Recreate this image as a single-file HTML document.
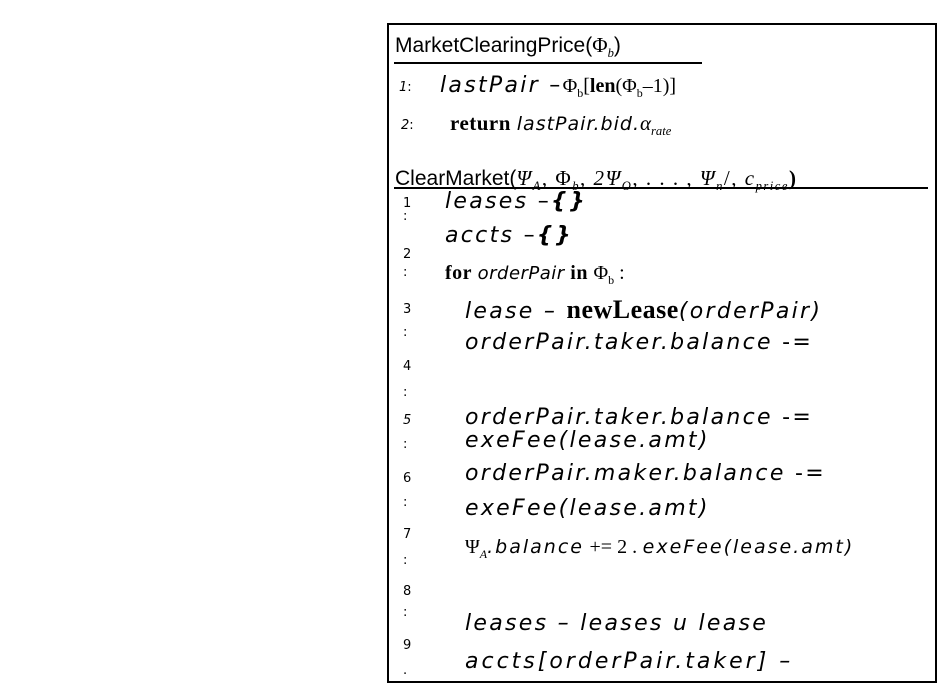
<!DOCTYPE html>
<html><head><meta charset="utf-8"><style>
body{margin:0;width:944px;height:690px;background:#fff;position:relative;overflow:hidden;font-family:"Liberation Sans",sans-serif;color:#000}
#box{position:absolute;left:387px;top:23px;width:546px;height:656px;border:2.5px solid #000}
.t{position:absolute;white-space:nowrap;line-height:1}
.h{font-size:21px}
.c{font-family:"DejaVu Sans",sans-serif;font-style:italic;font-size:22px;letter-spacing:2.3px}
.n{font-family:"DejaVu Sans",sans-serif;font-size:13px}
.s{font-family:"Liberation Serif",serif;letter-spacing:0}
.b{font-family:"Liberation Serif",serif;font-weight:bold;letter-spacing:0.5px}
.hl{position:absolute;height:2px;background:#000}
sub{font-size:0.6em}
</style></head><body>
<div id="box"></div>
<div class="t h" style="left:395px;top:35px">MarketClearingPrice(<span class="s">Φ<sub><i>b</i></sub></span>)</div>
<div class="hl" style="left:394px;top:62px;width:308px"></div>
<div class="t n" style="left:399px;top:81px"><i>1</i>:</div>
<div class="t c" style="left:440px;top:75px">lastPair <span style="font-style:normal">–</span><span class="s" style="font-style:normal;font-size:20px">Φ<sub>b</sub>[<b>len</b>(Φ<sub>b</sub>–1)]</span></div>
<div class="t n" style="left:401px;top:119px"><i>2</i>:</div>
<div class="t" style="left:450px;top:113px;font-size:21px"><span class="b">return</span> <i style="font-family:'DejaVu Sans',sans-serif;font-size:19px;letter-spacing:1px">lastPair.bid.</i><span class="s"><i>α<sub>rate</sub></i></span></div>
<div class="t h" style="left:395px;top:168px;text-decoration:underline">ClearMarket(<span class="s" style="letter-spacing:1.5px"><i>Ψ<sub>A</sub></i>, Φ<sub><i>b</i></sub>, <i>2Ψ<sub>O</sub></i>, . . . , <i>Ψ<sub>n</sub></i>/, <i>c<sub>price</sub></i><b>)</b></span></div>
<div class="hl" style="left:394px;top:187px;width:534px"></div>
<div class="t n" style="left:403px;top:197px">1</div><div class="t n" style="left:403px;top:210px">:</div>
<div class="t n" style="left:403px;top:248px">2</div><div class="t n" style="left:403px;top:266px">:</div>
<div class="t n" style="left:403px;top:303px">3</div><div class="t n" style="left:403px;top:326px">:</div>
<div class="t n" style="left:403px;top:360px">4</div><div class="t n" style="left:403px;top:386px">:</div>
<div class="t n" style="left:403px;top:414px"><i>5</i></div><div class="t n" style="left:403px;top:438px">:</div>
<div class="t n" style="left:403px;top:472px">6</div><div class="t n" style="left:403px;top:496px">:</div>
<div class="t n" style="left:403px;top:528px">7</div><div class="t n" style="left:403px;top:554px">:</div>
<div class="t n" style="left:403px;top:585px">8</div><div class="t n" style="left:403px;top:606px">:</div>
<div class="t n" style="left:403px;top:639px">9</div><div class="t n" style="left:403px;top:664px">.</div>
<div class="t c" style="left:445px;top:191px">leases <span style="font-style:normal">–</span><b>{}</b></div>
<div class="t c" style="left:445px;top:225px">accts <span style="font-style:normal">–</span><b>{}</b></div>
<div class="t" style="left:445px;top:263px;font-size:20px"><span class="b">for</span> <i style="font-family:'DejaVu Sans',sans-serif;font-size:18px;letter-spacing:0.5px">orderPair</i> <span class="b">in</span> <span class="s">Φ<sub>b</sub> :</span></div>
<div class="t c" style="left:465px;top:297px">lease – <span class="b" style="font-style:normal;font-size:26px">newLease</span>(orderPair)</div>
<div class="t c" style="left:465px;top:332px">orderPair.taker.balance <span style="font-style:normal">-=</span></div>
<div class="t c" style="left:465px;top:407px">orderPair.taker.balance <span style="font-style:normal">-=</span></div>
<div class="t c" style="left:465px;top:430px">exeFee(lease.amt)</div>
<div class="t c" style="left:465px;top:463px">orderPair.maker.balance <span style="font-style:normal">-=</span></div>
<div class="t c" style="left:465px;top:498px">exeFee(lease.amt)</div>
<div class="t" style="left:465px;top:537px;font-size:20px"><span class="s">Ψ<sub><i>A</i></sub></span><i style="font-family:'DejaVu Sans',sans-serif;font-size:19px;letter-spacing:2px">.balance</i> <span class="s">+= 2 .</span> <i style="font-family:'DejaVu Sans',sans-serif;font-size:19px;letter-spacing:2px">exeFee(lease.amt)</i></div>
<div class="t c" style="left:465px;top:613px">leases – leases u lease</div>
<div class="t c" style="left:465px;top:651px;letter-spacing:3px">accts[orderPair.taker] –</div>
</body></html>
